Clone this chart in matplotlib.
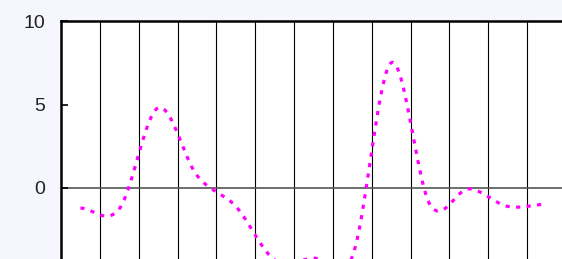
import numpy as np
import matplotlib
matplotlib.use("Agg")
import matplotlib.pyplot as plt

# data (category positions are centered at half-integers)
x_pos = [0.5, 1.5, 2.5, 3.5, 4.5, 5.5, 6.5, 7.5, 8.5, 9.5, 10.5, 11.5, 12.5]
values = [-1.2, -1.25, 4.8, 0.75, -1.1, -4.3, -4.2, -4.1, 7.5, -1.0, -0.05, -1.1, -0.95]
y_ticks = [0, 5, 10]
y_labels = ["0", "5", "10"]


def catmull_rom(x, y, n=40):
    x = np.asarray(x, float)
    y = np.asarray(y, float)
    m = len(x)
    tang = np.zeros(m)
    for i in range(m):
        if i == 0:
            tang[i] = (y[1] - y[0]) / (x[1] - x[0])
        elif i == m - 1:
            tang[i] = (y[-1] - y[-2]) / (x[-1] - x[-2])
        else:
            tang[i] = (y[i + 1] - y[i - 1]) / (x[i + 1] - x[i - 1])
    xs, ys = [], []
    for i in range(m - 1):
        h = x[i + 1] - x[i]
        t = np.linspace(0, 1, n, endpoint=(i == m - 2))
        h00 = 2 * t**3 - 3 * t**2 + 1
        h10 = t**3 - 2 * t**2 + t
        h01 = -2 * t**3 + 3 * t**2
        h11 = t**3 - t**2
        ys.append(h00 * y[i] + h10 * h * tang[i] + h01 * y[i + 1] + h11 * h * tang[i + 1])
        xs.append(x[i] + t * h)
    return np.concatenate(xs), np.concatenate(ys)


W, H = 562, 259
fig = plt.figure(figsize=(W / 100, H / 100), dpi=100)
fig.patch.set_facecolor("#f6f7fe")

left, right, top, bottom = 61, 566, 21, 355
ax = fig.add_axes([left / W, (H - bottom) / H, (right - left) / W, (bottom - top) / H])
ax.set_facecolor("white")
ax.set_xlim(0, 13)
ax.set_ylim(-10, 10)

for xv in range(1, 13):
    ax.axvline(xv, color="black", lw=0.8, zorder=1)
ax.axhline(0, color="#555555", lw=1.2, zorder=1)

sx, sy = catmull_rom(x_pos, values)
ax.plot(sx, sy, color="#ff00ff", lw=2.3, linestyle=(0, (1.3, 2.0)),
        dash_capstyle="butt", zorder=3)

for side in ["right", "bottom"]:
    ax.spines[side].set_visible(False)
ax.spines["left"].set_linewidth(1.8)
ax.spines["top"].set_linewidth(1.8)

ax.set_xticks([])
ax.set_yticks(y_ticks)
ax.set_yticklabels(y_labels, fontfamily="Liberation Sans", fontsize=14, color="#222222")
ax.tick_params(axis="y", direction="in", length=5, width=1.2, pad=11.5)

fig.savefig("out.png", dpi=100, facecolor=fig.get_facecolor())
